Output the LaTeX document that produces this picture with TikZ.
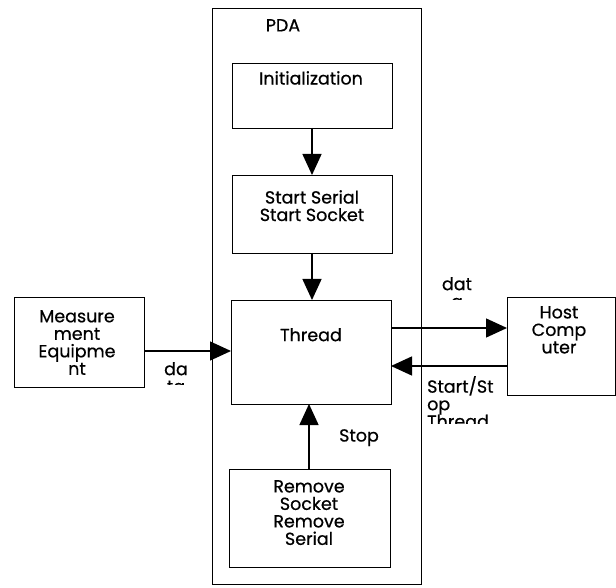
\documentclass[tikz,border=0pt]{standalone}
\usepackage{fontspec}
\setmainfont{Poppins}[FakeBold=0.6]
\usetikzlibrary{arrows.meta}
\begin{document}
\begin{tikzpicture}[x=1pt,y=-1pt,
  box/.style={draw,line width=1.4pt,inner sep=0pt,anchor=north west},
  txt/.style={anchor=north,inner sep=0pt,align=center,font=\fontsize{17.5}{17.5}\selectfont},
  flow/.style={line width=1.4pt,-{Triangle[length=21pt,width=19pt]}}]
\useasboundingbox (0,0) rectangle (616,588);

% outer PDA frame
\node[box,minimum width=209pt,minimum height=576pt] (pda) at (212,8) {};
\node[txt] (pdaT) at (283,19) {PDA};

% stages inside the PDA
\node[box,minimum width=160pt,minimum height=65pt] (init) at (232,63) {};
\node[txt] (initT) at (311,71) {Initialization};
\node[box,minimum width=160pt,minimum height=78pt] (start) at (232,175) {};
\node[txt] (startT) at (312,190) {Start Serial\\Start Socket};
\node[box,minimum width=160pt,minimum height=104pt] (thread) at (231,300) {};
\node[txt] (threadT) at (311,328) {Thread};
\node[box,minimum width=161pt,minimum height=98pt] (remove) at (229,469) {};
\node[txt] (removeT) at (309,480) {Remove\\Socket\\Remove\\Serial};

% external devices
\node[box,minimum width=130pt,minimum height=90pt] (meas) at (14,297) {};
\begin{scope}
  \clip (14,297) rectangle (144,375);
  \node[txt] (measT) at (77,310) {Measure\\ment\\Equipme\\nt};
\end{scope}
\node[box,minimum width=108pt,minimum height=98pt] (host) at (507,297) {};
\node[txt] (hostT) at (559,306) {Host\\Comp\\uter};

% connectors
\coordinate (initS) at (312,128);
\coordinate (startN) at (312,175);
\draw[flow] (initS) -- (startN);
\coordinate (startS) at (312,253);
\coordinate (threadN) at (312,300);
\draw[flow] (startS) -- (threadN);
\coordinate (removeN) at (309,469);
\coordinate (threadS) at (309,404);
\draw[flow] (removeN) -- (threadS);
\node[txt] (stopT) at (359,429) {Stop};

\coordinate (measE) at (144,351);
\coordinate (threadW) at (231,351);
\draw[flow] (measE) -- (threadW);
\begin{scope}
  \clip (150,360) rectangle (210,384);
  \node[txt] (daT) at (176,362) {da\\ta};
\end{scope}

\coordinate (threadE1) at (391,328);
\coordinate (hostW1) at (507,328);
\draw[flow] (threadE1) -- (hostW1);
\begin{scope}
  \clip (430,270) rectangle (490,299);
  \node[txt] (datT) at (457,277) {dat\\a};
\end{scope}

\coordinate (hostW2) at (507,366);
\coordinate (threadE2) at (391,366);
\draw[flow] (hostW2) -- (threadE2);
\begin{scope}
  \clip (420,372) rectangle (505,423);
  \node[txt,anchor=north west,align=left] (ssT) at (427,376) {Start/St\\op\\Thread};
\end{scope}
\end{tikzpicture}
\end{document}
